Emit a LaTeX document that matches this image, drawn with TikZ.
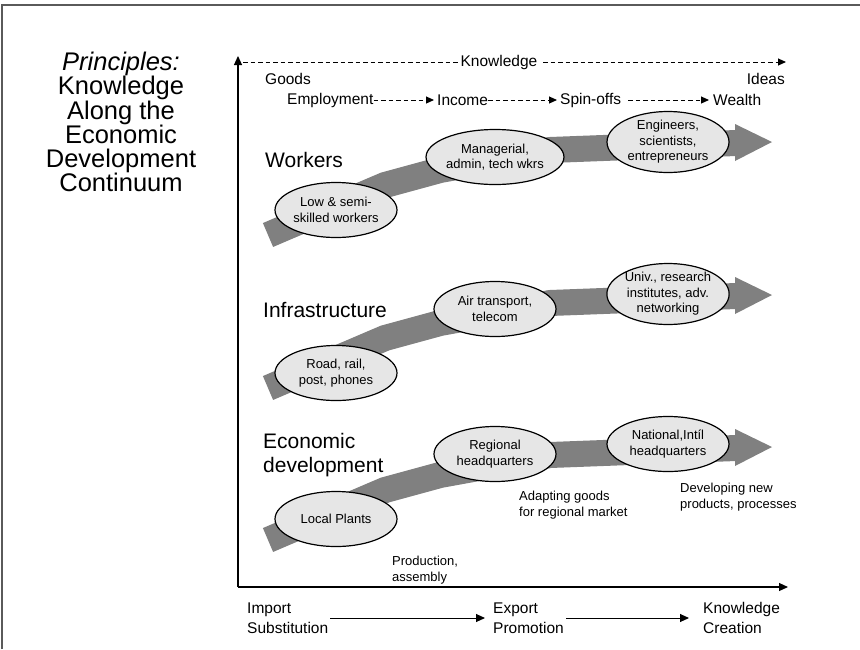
\documentclass[tikz,border=0pt]{standalone}
\usepackage{fontspec}
\setmainfont{Liberation Sans}
\usetikzlibrary{arrows.meta,shapes.geometric}
\definecolor{bandgray}{HTML}{808080}
\definecolor{ovalfill}{HTML}{E6E6E6}
\definecolor{framegray}{HTML}{5A5A5A}

\begin{document}
\begin{tikzpicture}[x=1pt,y=-1pt,
  oval/.style={ellipse, draw=black, line width=1.2pt, fill=ovalfill,
    minimum width=122pt, minimum height=55pt, inner sep=0pt, align=center,
    font=\fontsize{13}{15.5}\selectfont},
  band/.style={draw=bandgray, line width=26pt, line join=miter},
  rowlabel/.style={font=\fontsize{21}{24}\selectfont, anchor=west, align=left, inner sep=0pt},
  flowtxt/.style={font=\fontsize{15.5}{20.5}\selectfont, inner sep=0pt, align=left},
  note/.style={font=\fontsize{13}{15.5}\selectfont, anchor=west, align=left, inner sep=0pt},
  axis/.style={line width=1.2pt, -{Triangle[length=9pt,width=8pt]}},
  dflow/.style={line width=1pt, dash pattern=on 4.5pt off 3pt, -{Triangle[length=8pt,width=7pt]}},
  sflow/.style={line width=1pt, -{Triangle[length=9pt,width=8pt]}},
]
\useasboundingbox (0,0) rectangle (860,649);

% page frame (top and left edges)
\draw[framegray, line width=2pt] (2,649) -- (2,5) -- (860,5);

% title
\node[font=\fontsize{25.5}{24.2}\selectfont, align=center] (title) at (121,122)
  {\textit{Principles:}\\Knowledge\\Along the\\Economic\\Development\\Continuum};

% axes
\coordinate (origin) at (238,587);
\coordinate (ytop) at (238,56);
\coordinate (xend) at (788,587);
\draw[axis] (origin) -- (ytop);
\draw[axis] (origin) -- (xend);

% knowledge scale along the top
\coordinate (kstart) at (243,62);
\coordinate (kend) at (786,62);
\draw[dflow] (kstart) -- (kend);
\node[flowtxt, fill=white, inner xsep=3pt, inner ysep=1pt] (know) at (499,62) {Knowledge};
\node[flowtxt, anchor=west] (goods) at (265,79) {Goods};
\node[flowtxt, anchor=east] (ideas) at (785,79) {Ideas};

% employment chain
\node[flowtxt, anchor=west] (emp) at (287,100) {Employment};
\node[flowtxt, anchor=west] (inc) at (437,100) {Income};
\node[flowtxt, anchor=west] (spin) at (560,100) {Spin-offs};
\node[flowtxt, anchor=west] (wlth) at (713,100) {Wealth};
\draw[dflow, shorten >=3pt] (emp.east) -- (inc.west);
\draw[dflow, shorten >=3pt] (inc.east) -- (spin.west);
\draw[dflow, shorten <=7pt, shorten >=4pt] (spin.east) -- (wlth.west);

% the three rising bands
\foreach \dy/\nm in {0/w, 153/i, 305/e}{
  \begin{scope}[yshift=-\dy pt]
    \coordinate (\nm b0) at (268,235);
    \coordinate (\nm b1) at (385,185);
    \coordinate (\nm b2) at (440,170);
    \coordinate (\nm b3) at (550,150);
    \coordinate (\nm b4) at (736,143);
    \coordinate (\nm h1) at (735,124);
    \coordinate (\nm tip) at (772,142);
    \coordinate (\nm h2) at (735,161);
    \draw[band] (\nm b0) -- (\nm b1) -- (\nm b2) -- (\nm b3) -- (\nm b4);
    \fill[bandgray] (\nm h1) -- (\nm tip) -- (\nm h2) -- cycle;
  \end{scope}
}

% row labels
\node[rowlabel] (workers) at (265,160) {Workers};
\node[rowlabel] (infra) at (263,310) {Infrastructure};
\node[rowlabel] (econ) at (263,455) {Economic\\development};

% workers
\node[oval] (low) at (336,210) {Low \& semi-\\skilled workers};
\node[oval] (mgr) at (495,157) {Managerial,\\admin, tech wkrs};
\node[oval] (eng) at (668,142) {Engineers,\\scientists,\\entrepreneurs};

% infrastructure
\node[oval] (road) at (336,373) {Road, rail,\\post, phones};
\node[oval] (air) at (495,309) {Air transport,\\telecom};
\node[oval] (univ) at (668,294) {Univ., research\\institutes, adv.\\networking};

% economic development
\node[oval] (plants) at (336,519) {Local Plants};
\node[oval] (regional) at (495,454) {Regional\\headquarters};
\node[oval] (natl) at (668,444) {National,Intíl\\headquarters};

% notes under the economic development band
\node[note] (prod) at (392,570) {Production,\\assembly};
\node[note] (adapt) at (519,505) {Adapting goods\\for regional market};
\node[note] (devel) at (680,497) {Developing new\\products, processes};

% policy stages below the axis
\node[flowtxt, anchor=west] (imp) at (247,618) {Import\\Substitution};
\node[flowtxt, anchor=west] (exp) at (493,618) {Export\\Promotion};
\node[flowtxt, anchor=west] (kc) at (703,618) {Knowledge\\Creation};
\draw[sflow, shorten <=2pt, shorten >=8pt] (imp.east) -- (exp.west);
\draw[sflow, shorten <=2pt, shorten >=14pt] (exp.east) -- (kc.west);
\end{tikzpicture}
\end{document}
